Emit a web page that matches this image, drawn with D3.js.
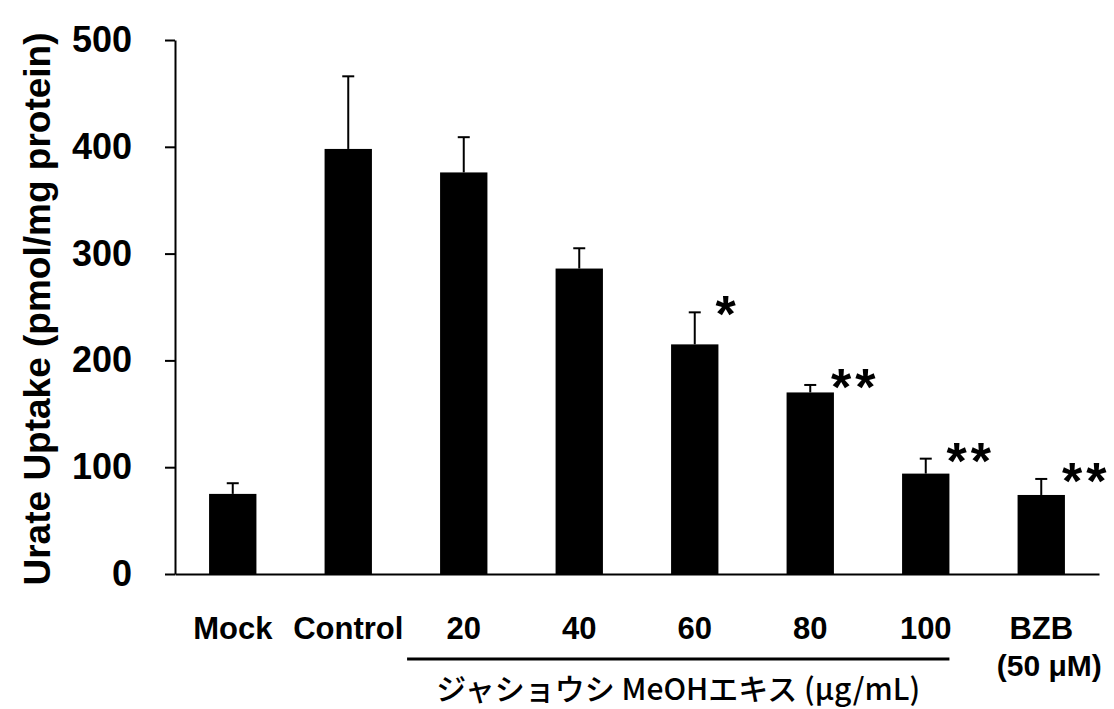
<!DOCTYPE html>
<html>
<head>
<meta charset="utf-8">
<script src="https://cdn.jsdelivr.net/npm/d3@7"></script>
<style>
  body { margin: 0; background: #fff; }
  .lbl { font-family: "Liberation Sans", Arial, sans-serif; font-weight: bold; fill: #000; }
  .jp { font-family: "Noto Sans CJK JP", sans-serif; font-weight: 500; fill: #000; }
</style>
</head>
<body>
<div id="chart"></div>
<script>
// data
var groups = ["Mock", "Control", "20", "40", "60", "80", "100", "BZB"];
var means = [75, 398, 376, 286, 215, 170, 94, 74];
var errors = [10, 68, 33, 19, 30, 7, 14, 15];
var marks = ["", "", "", "", "*", "**", "**", "**"];
var yTicks = [0, 100, 200, 300, 400, 500];
var extractGroups = ["20", "100"];
var extractLabel = "ジャショウシ MeOHエキス (μg/mL)";
var bzbNote = "(50 μM)";
var yTitle = "Urate Uptake (pmol/mg protein)";

var svgWidth = 1114;
var svgHeight = 709;

var margin = { top: 40, right: 15, bottom: 135, left: 175 };
var width = svgWidth - margin.left - margin.right;
var height = svgHeight - margin.top - margin.bottom;

var svg = d3.select("#chart")
  .append("svg")
  .attr("width", svgWidth)
  .attr("height", svgHeight);

var chart = svg.append("g")
  .attr("transform", `translate(${margin.left}, ${margin.top})`);

// scales
var x = d3.scaleBand()
  .domain(groups)
  .range([0, width])
  .paddingInner(0.59)
  .paddingOuter(0.295);

var y = d3.scaleLinear()
  .domain([0, 500])
  .range([height, 0]);

// y axis
var yAxis = chart.append("g")
  .call(d3.axisLeft(y).tickValues(yTicks).tickSize(10).tickSizeOuter(0).tickPadding(33));

yAxis.select(".domain").attr("stroke-width", 2);
yAxis.selectAll(".tick line").attr("stroke-width", 2);
yAxis.selectAll("text")
  .attr("class", "lbl")
  .style("font-size", "36px");

// x axis with group labels
var xAxis = chart.append("g")
  .attr("transform", `translate(0, ${height})`)
  .call(d3.axisBottom(x).tickSize(0).tickSizeOuter(0).tickPadding(43));

xAxis.select(".domain").attr("stroke-width", 2);
xAxis.selectAll("text")
  .attr("class", "lbl")
  .style("font-size", "31px");

// bars
chart.selectAll(".bar")
  .data(groups)
  .enter()
  .append("rect")
  .attr("class", "bar")
  .attr("x", d => x(d))
  .attr("width", x.bandwidth())
  .attr("y", (d, i) => y(means[i]))
  .attr("height", (d, i) => height - y(means[i]))
  .attr("fill", "#000");

// error bars (upper only)
var err = chart.selectAll(".err")
  .data(groups)
  .enter()
  .append("g")
  .attr("class", "err")
  .attr("stroke", "#000")
  .attr("stroke-width", 2);

err.append("line")
  .attr("x1", d => x(d) + x.bandwidth() / 2)
  .attr("x2", d => x(d) + x.bandwidth() / 2)
  .attr("y1", (d, i) => y(means[i]))
  .attr("y2", (d, i) => y(means[i] + errors[i]));

err.append("line")
  .attr("x1", d => x(d) + x.bandwidth() / 2 - 6)
  .attr("x2", d => x(d) + x.bandwidth() / 2 + 6)
  .attr("y1", (d, i) => y(means[i] + errors[i]))
  .attr("y2", (d, i) => y(means[i] + errors[i]));

// significance asterisks
chart.selectAll(".mark")
  .data(groups)
  .enter()
  .append("text")
  .attr("class", "lbl mark")
  .attr("x", d => x(d) + x.bandwidth() - 3)
  .attr("y", (d, i) => y(means[i] + errors[i]) + 20)
  .style("font-size", "52px")
  .attr("letter-spacing", 4)
  .text((d, i) => marks[i]);

// bracket under the extract doses
var bx1 = x(extractGroups[0]) - 33;
var bx2 = x(extractGroups[1]) + x.bandwidth();
chart.append("line")
  .attr("x1", bx1)
  .attr("x2", bx2)
  .attr("y1", height + 85)
  .attr("y2", height + 85)
  .attr("stroke", "#000")
  .attr("stroke-width", 3);

chart.append("text")
  .attr("class", "jp")
  .attr("x", (bx1 + bx2) / 2)
  .attr("y", height + 126)
  .attr("text-anchor", "middle")
  .style("font-size", "30px")
  .text(extractLabel);

chart.append("text")
  .attr("class", "lbl")
  .attr("x", x("BZB") + x.bandwidth() / 2 + 8)
  .attr("y", height + 102)
  .attr("text-anchor", "middle")
  .style("font-size", "30px")
  .text(bzbNote);

// y axis title
svg.append("text")
  .attr("class", "lbl")
  .attr("transform", "rotate(-90)")
  .attr("x", -309)
  .attr("y", 50)
  .attr("text-anchor", "middle")
  .style("font-size", "37px")
  .text(yTitle);
</script>
</body>
</html>
